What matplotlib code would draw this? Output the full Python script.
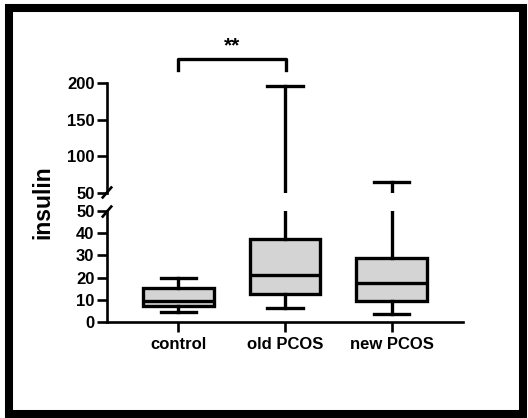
import numpy as np
import matplotlib.pyplot as plt
from matplotlib.patches import Rectangle

plt.rcParams['font.family'] = ['Liberation Sans', 'DejaVu Sans']
plt.rcParams['font.weight'] = 'bold'

# data
groups = ['control', 'old PCOS', 'new PCOS']
whislo = [4.5, 6.5, 3.5]
q1 = [7.0, 12.5, 9.5]
med = [9.5, 21.0, 17.5]
q3 = [15.5, 37.5, 29.0]
whishi = [20.0, 196.0, 65.0]

lower_ticks = [0, 10, 20, 30, 40, 50]
upper_ticks = [50, 100, 150, 200]

W, H = 528, 418
fig = plt.figure(figsize=(W / 100, H / 100), dpi=100)


def frac_box(x0, y0, x1, y1):
    # pixel box (top-left origin) -> figure fraction rect
    return [x0 / W, 1 - y1 / H, (x1 - x0) / W, (y1 - y0) / H]


ax_top = fig.add_axes(frac_box(107, 83, 463, 193))
ax_bot = fig.add_axes(frac_box(107, 211, 463, 322))

stats = [dict(label=g, whislo=a, q1=b, med=c, q3=d, whishi=e)
         for g, a, b, c, d, e in zip(groups, whislo, q1, med, q3, whishi)]

lw = 2.4
alw = 1.9
pos = [1, 2, 3]
for ax in (ax_top, ax_bot):
    ax.bxp(stats, positions=pos, widths=0.66, showfliers=False, patch_artist=True,
           boxprops=dict(facecolor='#d4d4d4', edgecolor='black', linewidth=lw),
           medianprops=dict(color='black', linewidth=lw),
           whiskerprops=dict(color='black', linewidth=lw),
           capprops=dict(color='black', linewidth=lw))
    ax.set_xlim(0.33, 3.67)
    for s in ('top', 'right'):
        ax.spines[s].set_visible(False)
    ax.spines['left'].set_linewidth(alw)
    ax.spines['bottom'].set_linewidth(alw)
    ax.tick_params(axis='y', length=7, width=alw, pad=2, labelsize=12)

ax_top.set_ylim(50, 200)
ax_top.set_yticks(upper_ticks)
ax_top.spines['bottom'].set_visible(False)
ax_top.tick_params(axis='x', bottom=False, labelbottom=False)

ax_bot.set_ylim(0, 50)
ax_bot.set_yticks(lower_ticks)
ax_bot.set_xticks(pos)
ax_bot.set_xticklabels(groups)
ax_bot.tick_params(axis='x', length=7, width=alw, pad=4, labelsize=12)

for lab in ax_top.get_yticklabels() + ax_bot.get_yticklabels() + ax_bot.get_xticklabels():
    lab.set_fontweight('bold')

# break marks on the y axis
kw = dict(color='black', lw=alw, clip_on=False)
ax_top.plot([-0.012, 0.012], [-0.04, 0.05], transform=ax_top.transAxes, **kw)
ax_bot.plot([-0.012, 0.012], [0.95, 1.04], transform=ax_bot.transAxes, **kw)

fig.text(43 / W, 1 - 202 / H, 'insulin', rotation=90, ha='center', va='center',
         fontsize=16.5, fontweight='bold')

# significance bracket between control and old PCOS
bx0, bx1 = 178 / W, 286 / W
by, bt = 1 - 59 / H, 1 - 70 / H
fig.add_artist(plt.Line2D([bx0, bx0, bx1, bx1], [bt, by, by, bt], color='black', lw=2.4,
                          transform=fig.transFigure))
fig.text((bx0 + bx1) / 2, 1 - 46 / H, '**', ha='center', va='center', fontsize=15,
         fontweight='bold')

# black frame
fig.patches.append(Rectangle((9 / W, 1 - 414 / H), 514 / W, 406 / H, transform=fig.transFigure,
                             fill=False, edgecolor='black', linewidth=5.8))

fig.savefig('out.png', dpi=100)
